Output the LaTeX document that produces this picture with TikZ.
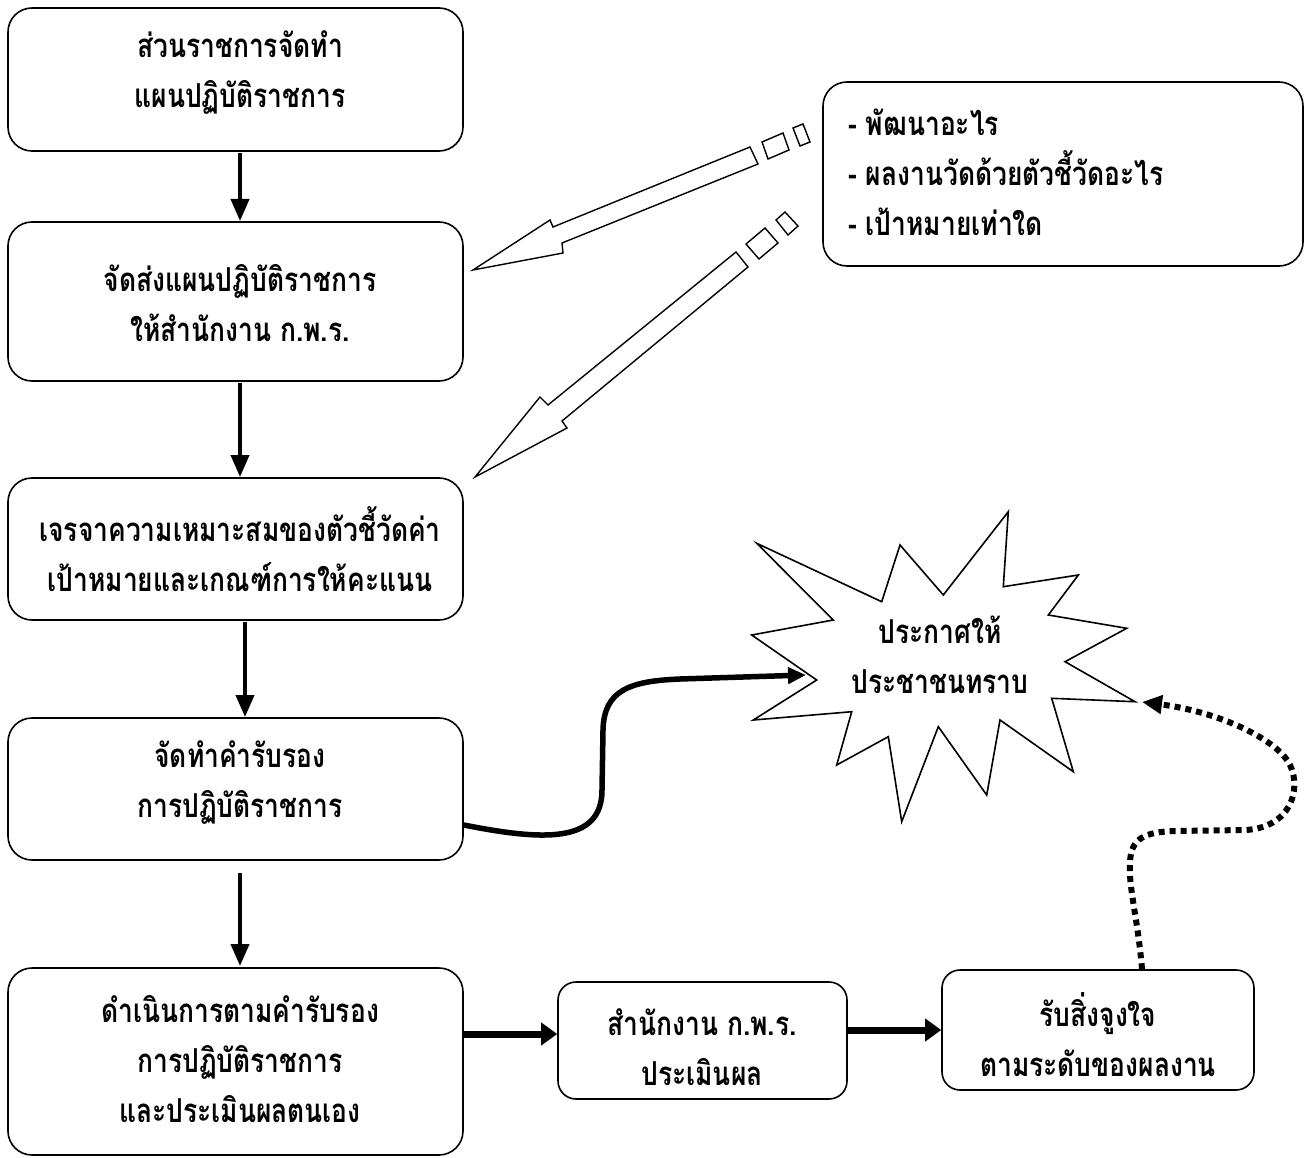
\documentclass[tikz,border=0pt]{standalone}
\usepackage{fontspec}
\newfontfamily\thaifont[Script=Thai,FakeStretch=0.8]{Loma}
\usetikzlibrary{arrows.meta}
\tikzset{
  box/.style={draw, line width=1.6pt, rounded corners=24pt, inner sep=0pt},
  sbox/.style={draw, line width=1.6pt, rounded corners=18pt, inner sep=0pt},
  lbl/.style={font=\thaifont\bfseries\fontsize{33}{50}\selectfont, align=center, inner sep=0pt},
  vflow/.style={line width=4pt, -{Triangle[length=22pt,width=18pt]}},
  hflow/.style={line width=7pt, -{Triangle[length=16pt,width=22pt]}},
  hollow/.style={draw, line width=1.4pt, line join=miter, fill=white},
  starline/.style={draw, line width=1.6pt, line join=miter, fill=white},
}
\begin{document}
\begin{tikzpicture}[x=1pt,y=-1pt]
\useasboundingbox (0,0) rectangle (1308,1158);
% boxes
\node[box, minimum width=455pt, minimum height=143pt] (b1) at (235.5,79.5) {};
\node[box, minimum width=455pt, minimum height=159pt] (b2) at (235.5,301.5) {};
\node[box, minimum width=455pt, minimum height=142pt] (b3) at (235.5,549) {};
\node[box, minimum width=455pt, minimum height=142pt] (b4) at (235.5,789) {};
\node[box, minimum width=455pt, minimum height=187pt] (b5) at (235.5,1061.5) {};
\node[sbox, minimum width=289pt, minimum height=117pt] (b6) at (702.5,1040.5) {};
\node[sbox, minimum width=312pt, minimum height=120pt] (b7) at (1098,1030) {};
\node[box, minimum width=480pt, minimum height=184pt] (b8) at (1063,174) {};
% labels
\node[lbl] (t1) at (240,73) {ส่วนราชการจัดทำ\\แผนปฏิบัติราชการ};
\node[lbl] (t2) at (240,303) {จัดส่งแผนปฏิบัติราชการ\\ให้สำนักงาน ก.พ.ร.};
\node[lbl] (t3) at (240,549.5) {เจรจาความเหมาะสมของตัวชี้วัดค่า\\เป้าหมายและเกณฑ์การให้คะแนน};
\node[lbl] (t4) at (240,783) {จัดทำคำรับรอง\\การปฏิบัติราชการ};
\node[lbl] (t5) at (240,1059) {ดำเนินการตามคำรับรอง\\การปฏิบัติราชการ\\และประเมินผลตนเอง};
\node[lbl] (t6) at (702,1047) {สำนักงาน ก.พ.ร.\\ประเมินผล};
\node[lbl] (t7) at (1098,1035) {รับสิ่งจูงใจ\\ตามระดับของผลงาน};
\node[lbl, align=left, anchor=west] (t8) at (848,172) {- พัฒนาอะไร\\- ผลงานวัดด้วยตัวชี้วัดอะไร\\- เป้าหมายเท่าใด};
% vertical flow
\draw[vflow] (240,153) -- (240,221);
\draw[vflow] (240,383) -- (240,477);
\draw[vflow] (245,622) -- (245,717);
\draw[vflow] (240,873) -- (240,966);
% horizontal flow
\draw[hflow] (b5.east |- 0,1034) -- (b6.west |- 0,1034);
\draw[hflow] (b6.east |- 0,1030) -- (b7.west |- 0,1030);
% starburst
\path[starline] (756.7,543.3) -- (833.3,620) -- (751.7,635) -- (816.7,680) -- (753.3,720)
  -- (851.7,711.7) -- (836.7,765) -- (888.3,736.7) -- (901.7,821.7) -- (938.3,726.7)
  -- (986.7,795) -- (1000,720) -- (1073.3,771.7) -- (1051.7,698.3) -- (1135,701.7)
  -- (1065,661.7) -- (1126.7,628.3) -- (1048.3,615) -- (1078.3,575) -- (1003.3,586.7)
  -- (1008.3,511.7) -- (943.3,595) -- (900,545) -- (881.7,601.7) -- cycle;
\coordinate (sL) at (806,675);
\coordinate (sR) at (1142,702);
\node[lbl] (t9) at (940,655) {ประกาศให้\\ประชาชนทราบ};
% curved arrow
\draw[line width=5.5pt, -{Triangle[length=18pt,width=16pt]}]
  (b4.east |- 0,825) .. controls (540,840) and (602,845) .. (602,790) -- (603,730)
  .. controls (604,690) and (630,681) .. (680,679) -- (sL);
% dotted arrow
\draw[line width=6pt, dash pattern=on 6pt off 5pt, -{Triangle[length=20pt,width=18pt]}]
  (b7.north -| 1142,0) .. controls (1138,920) and (1128,885) .. (1130,862)
  .. controls (1131,838) and (1145,832) .. (1175,831) -- (1245,830)
  .. controls (1290,828) and (1302,790) .. (1290,765)
  .. controls (1278,740) and (1220,712) .. (sR);
% hollow arrows
\path[hollow] (473,270) -- (550,220) -- (553,227) -- (750,147) -- (758,164) -- (562,243) -- (563,253) -- cycle;
\path[hollow] (762,142) -- (783,133) -- (789,150) -- (768,159) -- cycle;
\path[hollow] (793,128) -- (803,124) -- (810,142) -- (800,146) -- cycle;
\path[hollow] (475,477) -- (540,397) -- (548,405) -- (736,252) -- (748,267) -- (562,421) -- (567,428) -- cycle;
\path[hollow] (746,244) -- (765,228) -- (778,243) -- (759,259) -- cycle;
\path[hollow] (776,220) -- (785,212) -- (798,226) -- (788,235) -- cycle;
\end{tikzpicture}
\end{document}
